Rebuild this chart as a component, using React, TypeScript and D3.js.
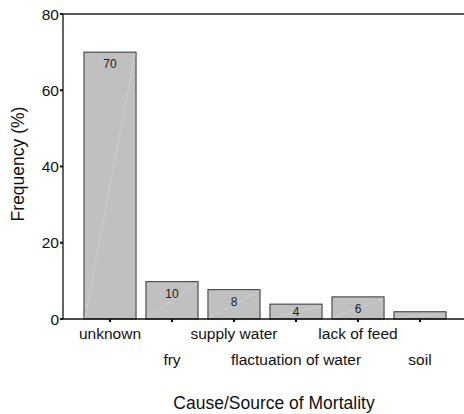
import React from "react";
import * as d3 from "d3";

const categories = ["unknown", "fry", "supply water", "flactuation of water", "lack of feed", "soil"];
const values = [70, 9.8, 7.7, 3.9, 5.8, 1.9];
const valueLabels = ["70", "10", "8", "4", "6", ""];
const yTicks = [0, 20, 40, 60, 80];

const W = 464;
const H = 414;
const axisX = 63;
const axisY = 319;
const topY = 14;
const font = "'Liberation Sans', Arial, sans-serif";

export default function App() {
  const y = d3.scaleLinear().domain([0, 80]).range([axisY, topY]);
  const x = d3.scaleBand<string>().domain(categories).range([79, 451]).paddingInner(0.16).paddingOuter(0.08);
  const bw = x.bandwidth();
  return (
    <svg width={W} height={H} style={{ position: "absolute", left: 0, top: 0, background: "#fff" }}>
      <line x1={axisX} x2={W} y1={topY} y2={topY} stroke="#222" strokeWidth={1.3} />
      {categories.map((c, i) => {
        const x0 = x(c)!;
        const yt = y(values[i]);
        return (
          <g key={c}>
            <rect x={x0} y={yt} width={bw} height={axisY - yt} fill="#c0c0c0" stroke="#333" strokeWidth={1} />
            <line x1={x0 + 1} y1={axisY - 1} x2={x0 + bw - 1} y2={yt + 2} stroke="#d6d6d6" strokeWidth={0.8} strokeDasharray="6 2" />
            {valueLabels[i] && (
              <text
                x={x0 + bw / 2}
                y={Math.min(yt + 12, axisY - 7)}
                textAnchor="middle"
                dominantBaseline="central"
                fontFamily={font}
                fontSize={12}
                fill="#222"
              >
                {valueLabels[i]}
              </text>
            )}
          </g>
        );
      })}
      <line x1={axisX} x2={axisX} y1={topY} y2={axisY} stroke="#111" strokeWidth={1.3} />
      {yTicks.map((t) => (
        <g key={t}>
          <line x1={axisX - 3} x2={axisX} y1={y(t)} y2={y(t)} stroke="#111" strokeWidth={2} />
          <text x={axisX - 4} y={y(t)} textAnchor="end" dominantBaseline="central" fontFamily={font} fontSize={15.5} fill="#111">
            {t}
          </text>
        </g>
      ))}
      <line x1={axisX - 1} x2={W} y1={axisY} y2={axisY} stroke="#111" strokeWidth={1.3} />
      {categories.map((c, i) => {
        const cx = x(c)! + bw / 2;
        return (
          <g key={c}>
            <line x1={cx} x2={cx} y1={axisY} y2={axisY + 3} stroke="#111" strokeWidth={2} />
            <text
              x={cx}
              y={i % 2 === 0 ? 333.5 : 359.5}
              textAnchor="middle"
              dominantBaseline="central"
              fontFamily={font}
              fontSize={15.5}
              fill="#111"
            >
              {c}
            </text>
          </g>
        );
      })}
      <text x={274} y={403} textAnchor="middle" dominantBaseline="central" fontFamily={font} fontSize={17.5} fill="#111">
        Cause/Source of Mortality
      </text>
      <text
        transform={`translate(18,164) rotate(-90)`}
        textAnchor="middle"
        dominantBaseline="central"
        fontFamily={font}
        fontSize={17.5}
        fill="#111"
      >
        Frequency (%)
      </text>
    </svg>
  );
}
